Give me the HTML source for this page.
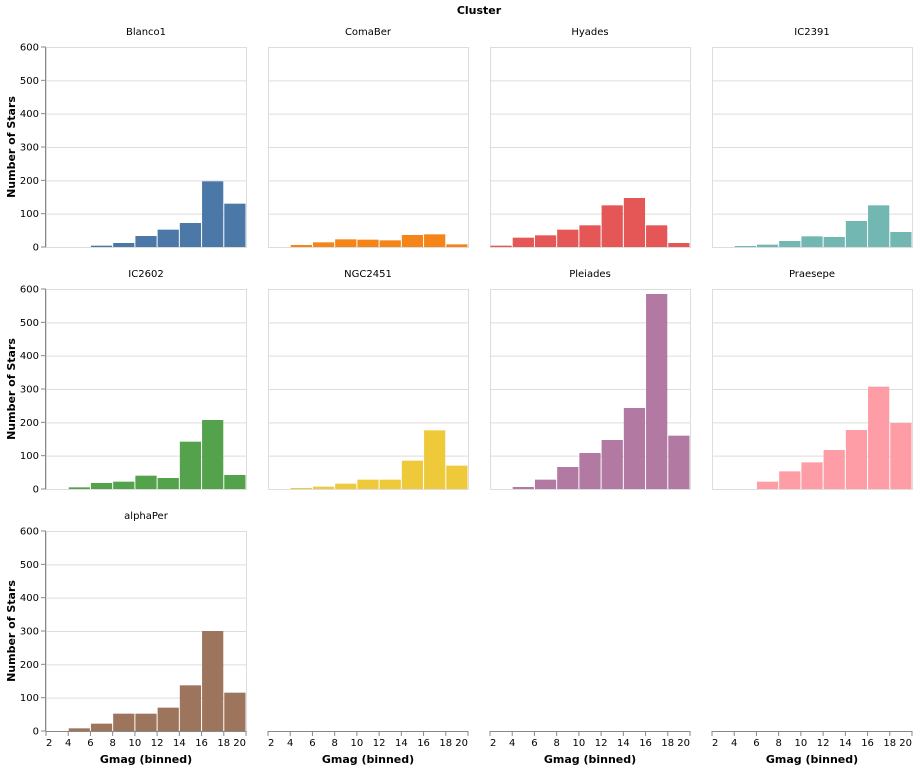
<!DOCTYPE html>
<html><head><meta charset="utf-8"><style>
body{margin:0;background:#fff}
svg text{font-family:"DejaVu Sans","Liberation Sans",sans-serif;fill:#000}
</style></head><body>
<svg id="s" width="918" height="769" xmlns="http://www.w3.org/2000/svg"></svg>
<script>
const data=[
["Blanco1","#4c78a8",[0,0,4,12,33,52,72,197,130]],
["ComaBer","#f58518",[0,6,14,23,22,20,36,38,8]],
["Hyades","#e45756",[4,28,35,52,65,125,147,65,12]],
["IC2391","#72b7b2",[0,3,7,18,32,30,78,125,45]],
["IC2602","#54a24b",[0,5,18,22,40,33,142,207,42]],
["NGC2451","#eeca3b",[0,3,7,16,28,28,85,176,70]],
["Pleiades","#b279a2",[0,6,28,66,108,147,243,585,160]],
["Praesepe","#ff9da6",[0,0,22,53,80,117,177,307,198]],
["alphaPer","#9d755d",[0,8,22,52,52,70,137,300,115]]];
const X0=[46,268,490,712],Y0=[47,289,531],W=200,H=200;
let o='<text x="479" y="14" text-anchor="middle" font-size="11" font-weight="bold">Cluster</text>';
const xs=v=>(v-2)*W/18;
function yaxis(x,y){
 o+=`<line x1="${x-0.5}" y1="${y}" x2="${x-0.5}" y2="${y+H}" stroke="#888"/>`;
 for(let v=0;v<=600;v+=100){const yy=y+H-v/3;
  o+=`<line x1="${x-5}" y1="${yy}" x2="${x}" y2="${yy}" stroke="#888"/><text x="${x-7}" y="${yy+3.5}" text-anchor="end" font-size="10">${v}</text>`;}
 o+=`<text transform="translate(15,${y+H/2}) rotate(-90)" text-anchor="middle" font-size="11" font-weight="bold">Number of Stars</text>`;
}
function xaxis(x,y){
 o+=`<line x1="${x}" y1="${y+0.5}" x2="${x+W}" y2="${y+0.5}" stroke="#888"/>`;
 for(let v=2;v<=20;v+=2){const xx=x+xs(v);
  const anc=v==2?'start':v==20?'end':'middle';
  o+=`<line x1="${xx}" y1="${y}" x2="${xx}" y2="${y+5}" stroke="#888"/><text x="${xx}" y="${y+15}" text-anchor="${anc}" font-size="10">${v}</text>`;}
 o+=`<text x="${x+W/2}" y="${y+32}" text-anchor="middle" font-size="11" font-weight="bold">Gmag (binned)</text>`;
}
data.forEach((d,i)=>{const c=i%4,r=Math.floor(i/4),x=X0[c],y=Y0[r];
 for(let v=0;v<=600;v+=100){const yy=y+H-v/3+0.5;o+=`<line x1="${x}" y1="${yy}" x2="${x+W}" y2="${yy}" stroke="#ddd"/>`;}
 o+=`<rect x="${x+0.5}" y="${y+0.5}" width="${W}" height="${H}" fill="none" stroke="#ddd"/>`;
 d[2].forEach((n,k)=>{if(!n)return;const x1=x+xs(2+2*k),x2=x+xs(4+2*k),h=n/3;
  o+=`<rect x="${x1+0.5}" y="${y+H-h}" width="${x2-x1-1}" height="${h}" fill="${d[1]}"/>`;});
 o+=`<text x="${x+W/2}" y="${y-12}" text-anchor="middle" font-size="10">${d[0]}</text>`;
 if(c==0)yaxis(x,y);
});
X0.forEach(x=>xaxis(x,731));
document.getElementById('s').innerHTML=o;
</script>
</body></html>
